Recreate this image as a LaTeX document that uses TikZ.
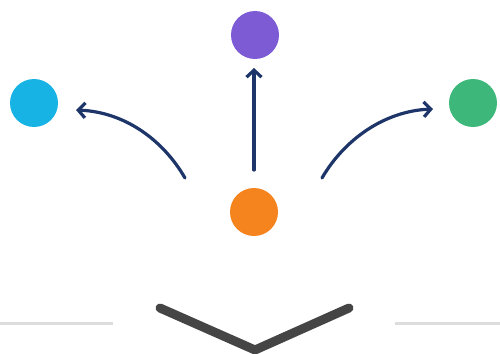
\documentclass[tikz,border=0pt]{standalone}
\usetikzlibrary{arrows.meta}
\definecolor{cCyan}{HTML}{17B3E5}
\definecolor{cPurple}{HTML}{7C5BD4}
\definecolor{cGreen}{HTML}{3DB87A}
\definecolor{cOrange}{HTML}{F5841F}
\definecolor{cNavy}{HTML}{1D3568}
\definecolor{cRule}{HTML}{DDDDDD}
\definecolor{cChev}{HTML}{454545}
\tikzset{
  dot/.style={circle, minimum size=48pt, inner sep=0pt, draw=none, fill=#1},
  flow/.style={draw=cNavy, line width=3.2pt, line cap=round, -{Straight Barb[length=7pt,width=15pt,line width=3.2pt]}},
  rulebar/.style={draw=cRule, line width=3pt},
  chev/.style={draw=cChev, line width=9pt, line cap=round, line join=miter}
}
\begin{document}
\begin{tikzpicture}[x=1pt,y=-1pt]
\useasboundingbox (0,0) rectangle (500,353);
\node[dot=cCyan] (cyan) at (34,103) {};
\node[dot=cPurple] (purple) at (255,35) {};
\node[dot=cGreen] (green) at (473,103) {};
\node[dot=cOrange] (orange) at (254,212) {};
\coordinate (ls) at (185,178);
\coordinate (le) at (76,110);
\coordinate (rs) at (322,178);
\coordinate (re) at (433,109);
\coordinate (ms) at (254,170);
\coordinate (me) at (254,68);
\draw[flow] (ls) .. controls (163,140) and (125,112) .. (le);
\draw[flow] (rs) .. controls (344,140) and (384,111) .. (re);
\draw[flow] (ms) -- (me);
\coordinate (r1a) at (0,323);
\coordinate (r1b) at (113,323);
\coordinate (r2a) at (395,323);
\coordinate (r2b) at (500,323);
\draw[rulebar] (r1a) -- (r1b);
\draw[rulebar] (r2a) -- (r2b);
\coordinate (c1) at (160,308);
\coordinate (c2) at (255,350);
\coordinate (c3) at (349,308);
\draw[chev] (c1) -- (c2) -- (c3);
\end{tikzpicture}
\end{document}
